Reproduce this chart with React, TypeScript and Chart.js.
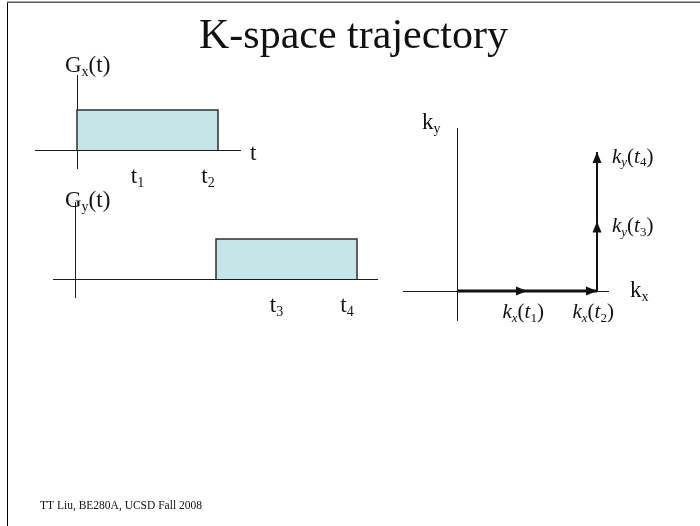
import { useEffect, useRef } from 'react';
import { Chart, registerables } from 'chart.js';

Chart.register(...registerables);

// ---- Gradient waveforms (time in units of t1, amplitude normalised) ----
const gxTimes = [0, 0, 2, 2];
const gxAmps = [0, 1, 1, 0];
const gyTimes = [2, 2, 4, 4];
const gyAmps = [0, 1, 1, 0];

// Time markers under each gradient axis
const gxMarkTimes = [1, 2];
const gxMarkNames = ['1', '2'];
const gyMarkTimes = [3, 4];
const gyMarkNames = ['3', '4'];

// ---- k-space trajectory (running area under Gx, Gy) ----
const kxPath = [0, 2, 2];
const kyPath = [0, 0, 2];

// Arrowheads along the trajectory and what they mark
const arrowKx = [1, 2, 2, 2];
const arrowKy = [0, 0, 1, 2];
const arrowDirs = ['right', 'right', 'up', 'up'];
const arrowAxes = ['x', 'x', 'y', 'y'];
const arrowTimes = ['1', '2', '3', '4'];

const TITLE = 'K-space trajectory';
const FOOTER = 'TT Liu, BE280A, UCSD Fall 2008';

// ---- look ----
const W = 700;
const H = 526;
const SERIF = '"Liberation Serif", "Times New Roman", serif';
const INK = '#111111';
const AXIS = '#1c1c1c';
const PULSE_FILL = '#c6e5e8';
const PULSE_EDGE = '#2e2e2e';

type Frame = {
  left: number; top: number; right: number; bottom: number;
  ox: number; oy: number; ux: number; uy: number;
};

// Plot boxes: axis extents, where the origin sits and the size of one unit
const gxFrame: Frame = { left: 35, top: 75, right: 240, bottom: 168, ox: 77, oy: 150, ux: 70.5, uy: 40 };
const gyFrame: Frame = { left: 53, top: 202, right: 377, bottom: 297, ox: 75, oy: 279, ux: 70.5, uy: 40 };
const kFrame: Frame = { left: 403, top: 128, right: 608, bottom: 320, ox: 457, oy: 291, ux: 70, uy: 69.5 };

type Run = { s: string; sub?: boolean; it?: boolean };

function runFont(r: Run, size: number) {
  const px = r.sub ? Math.round(size * 0.62) : size;
  return `${r.it ? 'italic ' : ''}${px}px ${SERIF}`;
}

function richWidth(ctx: CanvasRenderingContext2D, runs: Run[], size: number) {
  let w = 0;
  for (const r of runs) {
    ctx.font = runFont(r, size);
    w += ctx.measureText(r.s).width;
  }
  return w;
}

function drawRich(
  ctx: CanvasRenderingContext2D, runs: Run[], x: number, y: number,
  size: number, align: 'left' | 'center' = 'left'
) {
  let cx = align === 'center' ? x - richWidth(ctx, runs, size) / 2 : x;
  ctx.save();
  ctx.fillStyle = INK;
  ctx.textAlign = 'left';
  ctx.textBaseline = 'alphabetic';
  for (const r of runs) {
    ctx.font = runFont(r, size);
    ctx.fillText(r.s, cx, r.sub ? y + size * 0.19 : y);
    cx += ctx.measureText(r.s).width;
  }
  ctx.restore();
}

function centeredScales(f: Frame) {
  const common = {
    type: 'linear' as const,
    bounds: 'data' as const,
    grid: { display: false },
    ticks: { display: false },
    border: { display: true, color: AXIS, width: 1 },
  };
  return {
    x: { ...common, min: (f.left - f.ox) / f.ux, max: (f.right - f.ox) / f.ux, position: { y: 0 } },
    y: { ...common, min: (f.oy - f.bottom) / f.uy, max: (f.oy - f.top) / f.uy, position: { x: 0 } },
  };
}

function baseOptions(f: Frame) {
  return {
    responsive: false,
    animation: false as const,
    events: [] as any[],
    layout: { padding: { left: f.left, top: f.top, right: W - f.right, bottom: H - f.bottom } },
    plugins: {
      legend: { display: false },
      tooltip: { enabled: false },
      title: { display: false },
    },
    scales: centeredScales(f),
  };
}

function toPoints(xs: number[], ys: number[]) {
  return xs.map((x, i) => ({ x, y: ys[i] }));
}

function pulseDataset(xs: number[], ys: number[]) {
  return {
    data: toPoints(xs, ys),
    borderColor: PULSE_EDGE,
    borderWidth: 1.5,
    backgroundColor: PULSE_FILL,
    fill: 'origin',
    pointRadius: 0,
    tension: 0,
  };
}

function gradientChart(
  canvas: HTMLCanvasElement, f: Frame, xs: number[], ys: number[],
  axisName: string, markTimes: number[], markNames: string[],
  nameDx: number, nameDy: number, withPage: boolean
) {
  const labels = {
    id: 'gradientLabels',
    afterDraw(chart: any) {
      const ctx: CanvasRenderingContext2D = chart.ctx;
      const xs0 = chart.scales.x;
      const ys0 = chart.scales.y;
      const ox = xs0.getPixelForValue(0);
      const oy = ys0.getPixelForValue(0);
      const area = chart.chartArea;
      // axis names
      drawRich(ctx, [{ s: 'G' }, { s: axisName, sub: true }, { s: '(t)' }], ox + nameDx, area.top + nameDy, 23);
      if (withPage) drawRich(ctx, [{ s: 't' }], area.right + 10, oy + 10, 23);
      // time markers
      markTimes.forEach((t, i) => {
        drawRich(ctx, [{ s: 't' }, { s: markNames[i], sub: true }], xs0.getPixelForValue(t) - 10, oy + 33, 23, 'center');
      });
      if (withPage) {
        // slide frame, title and footer
        ctx.save();
        ctx.fillStyle = '#a8a8a8';
        ctx.fillRect(7, 1, W - 7, 1);
        ctx.fillStyle = '#5a5a5a';
        ctx.fillRect(7, 2, W - 7, 1);
        ctx.fillStyle = '#000';
        ctx.fillRect(7, 3, 1, H - 3);
        ctx.fillStyle = INK;
        ctx.textAlign = 'center';
        ctx.textBaseline = 'alphabetic';
        ctx.font = `42px ${SERIF}`;
        ctx.fillText(TITLE, 353.5, 48);
        ctx.textAlign = 'left';
        ctx.font = `11.5px ${SERIF}`;
        ctx.fillText(FOOTER, 40, 509);
        ctx.restore();
      }
    },
  };
  return new Chart(canvas, {
    type: 'line',
    data: { datasets: [pulseDataset(xs, ys) as any] },
    options: baseOptions(f) as any,
    plugins: [labels],
  });
}

function makeArrowHead(len: number, half: number) {
  const size = Math.ceil(len) * 2 + 2;
  const c = document.createElement('canvas');
  c.width = size;
  c.height = size;
  const g = c.getContext('2d')!;
  const cx = size / 2;
  const cy = size / 2;
  g.fillStyle = INK;
  g.beginPath();
  g.moveTo(cx, cy);
  g.lineTo(cx - len, cy - half);
  g.lineTo(cx - len, cy + half);
  g.closePath();
  g.fill();
  return c;
}

function kspaceChart(canvas: HTMLCanvasElement, f: Frame) {
  const head = makeArrowHead(11, 4.6);
  const labels = {
    id: 'kLabels',
    afterDraw(chart: any) {
      const ctx: CanvasRenderingContext2D = chart.ctx;
      const sx = chart.scales.x;
      const sy = chart.scales.y;
      const ox = sx.getPixelForValue(0);
      const oy = sy.getPixelForValue(0);
      const area = chart.chartArea;
      drawRich(ctx, [{ s: 'k' }, { s: 'y', sub: true }], ox - 35, area.top + 1, 23);
      drawRich(ctx, [{ s: 'k' }, { s: 'x', sub: true }], area.right + 22, oy + 6, 23);
      arrowKx.forEach((kx, i) => {
        const px = sx.getPixelForValue(kx);
        const py = sy.getPixelForValue(arrowKy[i]);
        const runs: Run[] = [
          { s: 'k', it: true }, { s: arrowAxes[i], sub: true, it: true },
          { s: '(' }, { s: 't', it: true }, { s: arrowTimes[i], sub: true }, { s: ')' },
        ];
        if (arrowAxes[i] === 'x') drawRich(ctx, runs, px - 24.5, oy + 27, 21);
        else drawRich(ctx, runs, px + 15, py + 10.5, 21);
      });
    },
  };
  return new Chart(canvas, {
    type: 'line',
    data: {
      datasets: [
        {
          type: 'scatter',
          data: toPoints(arrowKx, arrowKy),
          pointStyle: head,
          pointRadius: 6,
          pointRotation: arrowDirs.map((d) => (d === 'up' ? -90 : 0)),
          showLine: false,
        } as any,
        {
          data: toPoints(kxPath, kyPath),
          borderColor: INK,
          borderWidth: 2,
          segment: { borderWidth: (c: any) => (c.p0DataIndex === 0 ? 3 : 2) },
          pointRadius: 0,
          fill: false,
          tension: 0,
          borderCapStyle: 'butt',
          borderJoinStyle: 'miter',
        } as any,
      ],
    },
    options: baseOptions(f) as any,
    plugins: [labels],
  });
}

const layerStyle: React.CSSProperties = {
  position: 'absolute',
  left: 0,
  top: 0,
  width: W,
  height: H,
  pointerEvents: 'none',
};

export default function App() {
  const gxRef = useRef<HTMLCanvasElement>(null);
  const gyRef = useRef<HTMLCanvasElement>(null);
  const kRef = useRef<HTMLCanvasElement>(null);

  useEffect(() => {
    const charts = [
      gradientChart(gxRef.current!, gxFrame, gxTimes, gxAmps, 'x', gxMarkTimes, gxMarkNames, -12, -3, true),
      gradientChart(gyRef.current!, gyFrame, gyTimes, gyAmps, 'y', gyMarkTimes, gyMarkNames, -10, 5, false),
      kspaceChart(kRef.current!, kFrame),
    ];
    return () => charts.forEach((c) => c.destroy());
  }, []);

  return (
    <div style={{ position: 'absolute', left: 0, top: 0, width: W, height: H, background: '#fff' }}>
      <canvas ref={gxRef} width={W} height={H} style={layerStyle} />
      <canvas ref={gyRef} width={W} height={H} style={layerStyle} />
      <canvas ref={kRef} width={W} height={H} style={layerStyle} />
    </div>
  );
}
